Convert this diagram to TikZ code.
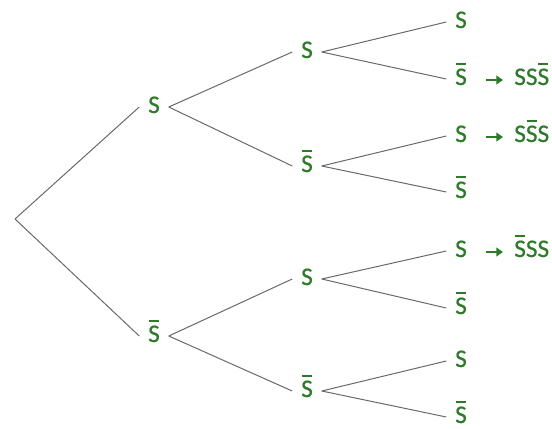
\documentclass[tikz,border=0pt]{standalone}
\usepackage{fontspec}
\setmainfont{Carlito}
\newfontfamily\labfont{Carlito}[FakeBold=0.6]
\usetikzlibrary{arrows.meta}
\definecolor{sgreen}{RGB}{45,122,40}
\definecolor{lgray}{RGB}{105,105,105}
\newcommand{\Sbar}{\leavevmode\rlap{\hbox to \fontcharwd\font`S{\hss\raisebox{0.80em}{\rule{0.40em}{0.07em}}\hss}}S}
\begin{document}
\begin{tikzpicture}[x=0.75pt,y=-0.75pt,
  lab/.style={text=sgreen, font=\labfont\fontsize{19}{19}\selectfont, inner xsep=6.5pt, inner ysep=0pt, text height=9pt, text depth=0pt, anchor=base},
  res/.style={lab, inner xsep=0pt, anchor=base west},
  br/.style={draw=lgray, line width=0.75pt},
  arr/.style={draw=sgreen, line width=1.5pt, -{Triangle[length=5pt,width=6.5pt]}}]
\useasboundingbox (0,0) rectangle (552,428);
\coordinate (r) at (15,219);
\node[lab] (a) at (154,113) {S};
\node[lab] (b) at (154,342) {\Sbar};
\node[lab] (aa) at (307,58) {S};
\node[lab] (ab) at (307,172) {\Sbar};
\node[lab] (ba) at (307,285) {S};
\node[lab] (bb) at (307,397) {\Sbar};
\node[lab] (aaa) at (461,28) {S};
\node[lab] (aab) at (461,85) {\Sbar};
\node[lab] (aba) at (461,142) {S};
\node[lab] (abb) at (461,198) {\Sbar};
\node[lab] (baa) at (461,257) {S};
\node[lab] (bab) at (461,314) {\Sbar};
\node[lab] (bba) at (461,367) {S};
\node[lab] (bbb) at (461,423) {\Sbar};
\node[res] (r1) at (514,85) {SS\Sbar};
\node[res] (r2) at (514,142) {S\Sbar S};
\node[res] (r3) at (514,257) {\Sbar SS};
\foreach \n/\y in {r1/85,r2/142,r3/257}
  \draw[arr] (486,\y-5) -- (503,\y-5);
\draw[br] (r) -- (a.west);
\draw[br] (r) -- (b.west);
\foreach \p/\c in {a/aa,a/ab,b/ba,b/bb,aa/aaa,aa/aab,ab/aba,ab/abb,ba/baa,ba/bab,bb/bba,bb/bbb}
  \draw[br] (\p.east) -- (\c.west);
\end{tikzpicture}
\end{document}
